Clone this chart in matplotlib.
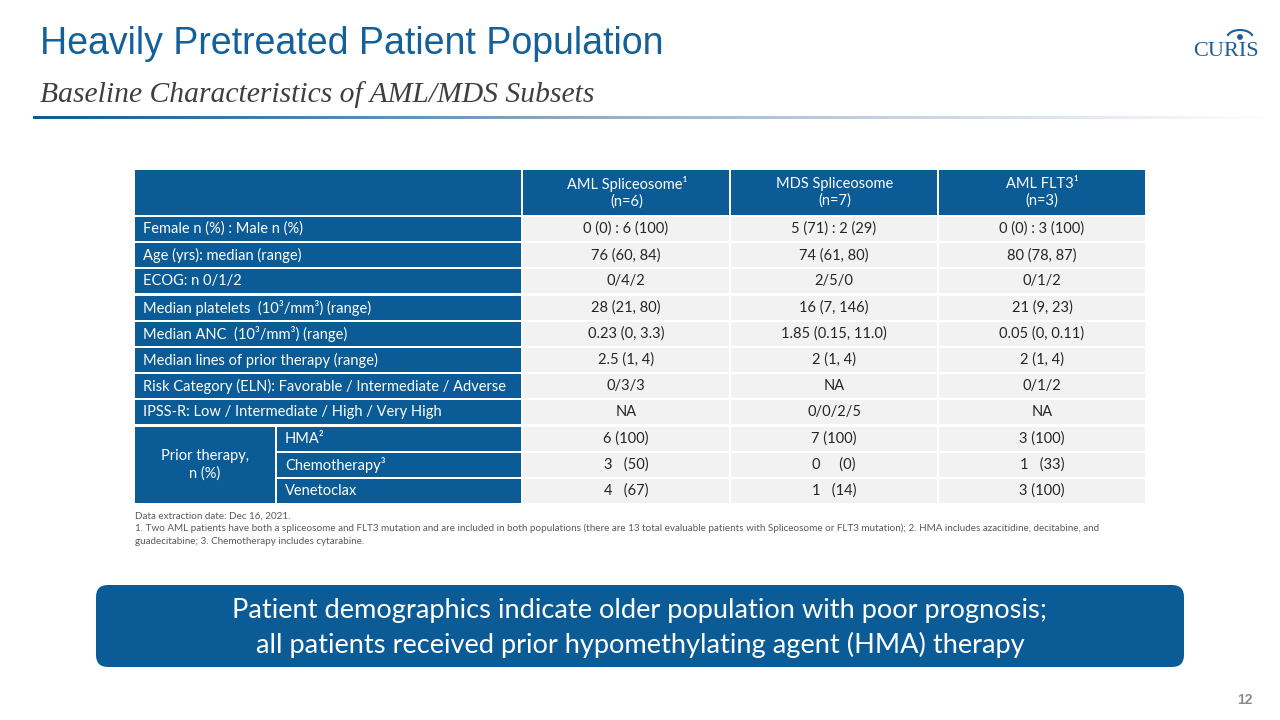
import numpy as np
import matplotlib
matplotlib.use("Agg")
import matplotlib.pyplot as plt
from matplotlib.patches import Rectangle, FancyBboxPatch, Arc, Circle
from matplotlib.colors import LinearSegmentedColormap

BLUE = "#0b5c96"
CELL = "#f2f2f2"

# table content
col_heads = ["AML Spliceosome¹\n(n=6)", "MDS Spliceosome\n(n=7)", "AML FLT3¹\n(n=3)"]
row_labels = [
    "Female n (%) : Male n (%)",
    "Age (yrs): median (range)",
    "ECOG: n 0/1/2",
    "Median platelets  (10³/mm³) (range)",
    "Median ANC  (10³/mm³) (range)",
    "Median lines of prior therapy (range)",
    "Risk Category (ELN): Favorable / Intermediate / Adverse",
    "IPSS-R: Low / Intermediate / High / Very High",
]
prior_group = "Prior therapy,\nn (%)"
prior_labels = ["HMA²", "Chemotherapy³", "Venetoclax"]

aml_splice = ["0 (0) : 6 (100)", "76 (60, 84)", "0/4/2", "28 (21, 80)", "0.23 (0, 3.3)",
              "2.5 (1, 4)", "0/3/3", "NA", "6 (100)", "3   (50)", "4   (67)"]
mds_splice = ["5 (71) : 2 (29)", "74 (61, 80)", "2/5/0", "16 (7, 146)", "1.85 (0.15, 11.0)",
              "2 (1, 4)", "NA", "0/0/2/5", "7 (100)", "0     (0)", "1   (14)"]
aml_flt3 = ["0 (0) : 3 (100)", "80 (78, 87)", "0/1/2", "21 (9, 23)", "0.05 (0, 0.11)",
            "2 (1, 4)", "0/1/2", "NA", "3 (100)", "1   (33)", "3 (100)"]
columns = [aml_splice, mds_splice, aml_flt3]

footnotes = [
    "Data extraction date: Dec 16, 2021.",
    "1. Two AML patients have both a spliceosome and FLT3 mutation and are included in both populations (there are 13 total evaluable patients with Spliceosome or FLT3 mutation); 2. HMA includes azacitidine, decitabine, and",
    "guadecitabine; 3. Chemotherapy includes cytarabine.",
]
callout = "Patient demographics indicate older population with poor prognosis;\nall patients received prior hypomethylating agent (HMA) therapy"

fig = plt.figure(figsize=(12.8, 7.2), dpi=100)
ax = fig.add_axes([0, 0, 1, 1])
ax.set_xlim(0, 1280)
ax.set_ylim(720, 0)
ax.axis("off")

# header
ax.text(40, 44, "Heavily Pretreated Patient Population", fontsize=27, color="#14609a",
        family="Liberation Sans", va="center", ha="left")
ax.text(40, 95, "Baseline Characteristics of AML/MDS Subsets", fontsize=21.3, color="#3f3f3f",
        family="Liberation Serif", style="italic", va="center", ha="left")
grad = LinearSegmentedColormap.from_list("g", [BLUE, "#9fb7cf", "#ffffff"])
ax.imshow(np.linspace(0, 1, 300)[None, :], cmap=grad, extent=[33, 1275, 119, 116], aspect="auto")

# logo
ax.text(1226, 51, "CURIS", fontsize=16, color="#1c5f96", family="Liberation Serif",
        ha="center", va="center")
ax.add_patch(Arc((1240, 38), 26, 16, theta1=190, theta2=350, color="#1c5f96", lw=1.5))
ax.add_patch(Circle((1240, 37), 2.2, color="#1c5f96"))

# table geometry
xs = [135, 523, 731, 939, 1145]
gap = 2
head_top, head_bot = 170, 215
row_top0, stride, rh = 217, 26.2, 24
tfont = dict(family="Lato", fontsize=10.5)

def cell(x0, x1, y0, y1, fc):
    ax.add_patch(Rectangle((x0, y0), x1 - x0, y1 - y0, facecolor=fc, edgecolor="none"))

# header row
cell(xs[0], xs[1] - gap, head_top, head_bot, BLUE)
for j, h in enumerate(col_heads):
    cell(xs[j + 1], xs[j + 2] - gap if j < 2 else xs[j + 2], head_top, head_bot, BLUE)
    ax.text((xs[j + 1] + xs[j + 2]) / 2, (head_top + head_bot) / 2, h, color="white",
            ha="center", va="center", linespacing=1.25, **tfont)

n_rows = len(row_labels) + len(prior_labels)
for i in range(n_rows):
    y0 = row_top0 + i * stride
    y1 = y0 + rh
    yc = (y0 + y1) / 2
    if i < len(row_labels):
        cell(xs[0], xs[1] - gap, y0, y1, BLUE)
        ax.text(xs[0] + 8, yc, row_labels[i], color="white", ha="left", va="center", **tfont)
    else:
        k = i - len(row_labels)
        cell(277, xs[1] - gap, y0, y1, BLUE)
        ax.text(285, yc, prior_labels[k], color="white", ha="left", va="center", **tfont)
    for j, col in enumerate(columns):
        x1 = xs[j + 2] - gap if j < 2 else xs[j + 2]
        cell(xs[j + 1], x1, y0, y1, CELL)
        ax.text((xs[j + 1] + x1) / 2, yc, col[i], color="#262626", ha="center", va="center", **tfont)

# merged prior therapy cell
g0 = row_top0 + len(row_labels) * stride
g1 = row_top0 + (n_rows - 1) * stride + rh
cell(xs[0], 275, g0, g1, BLUE)
ax.text((xs[0] + 275) / 2, (g0 + g1) / 2, prior_group, color="white", ha="center", va="center",
        linespacing=1.3, **tfont)

# footnotes
for fy, line in zip([516, 528, 542], footnotes):
    ax.text(135, fy, line, fontsize=7.15, color="#595959", family="Lato", ha="left", va="center")

# callout box
ax.add_patch(FancyBboxPatch((104, 593), 1072, 66, boxstyle="round,pad=8,rounding_size=12",
                            facecolor=BLUE, edgecolor="none"))
ax.text(640, 628, callout, color="white", fontsize=19.6, family="Lato", ha="center", va="center",
        linespacing=1.38)

ax.text(1253, 700, "12", fontsize=10, color="#8c8c8c", family="Liberation Sans",
        weight="bold", ha="right", va="center")

fig.savefig("out.png", dpi=100)
